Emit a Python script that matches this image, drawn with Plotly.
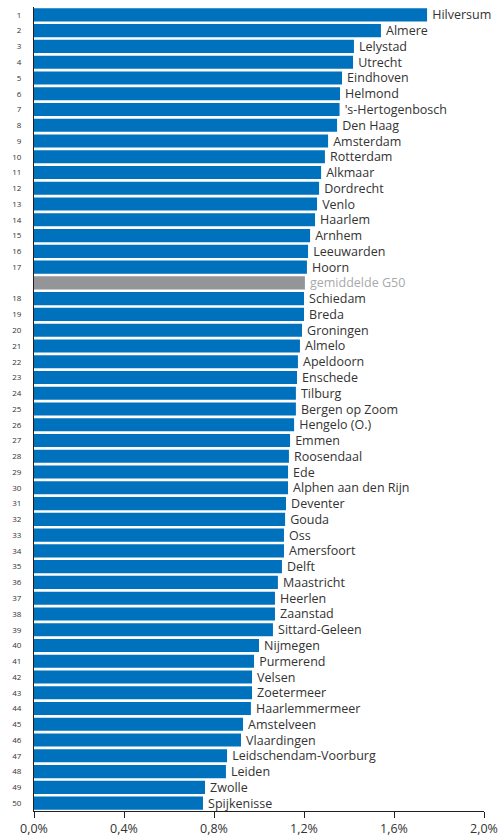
import plotly.graph_objects as go

cities = ["Hilversum", "Almere", "Lelystad", "Utrecht", "Eindhoven", "Helmond",
          "'s-Hertogenbosch", "Den Haag", "Amsterdam", "Rotterdam", "Alkmaar",
          "Dordrecht", "Venlo", "Haarlem", "Arnhem", "Leeuwarden", "Hoorn",
          "gemiddelde G50",
          "Schiedam", "Breda", "Groningen", "Almelo", "Apeldoorn", "Enschede",
          "Tilburg", "Bergen op Zoom", "Hengelo (O.)", "Emmen", "Roosendaal", "Ede",
          "Alphen aan den Rijn", "Deventer", "Gouda", "Oss", "Amersfoort", "Delft",
          "Maastricht", "Heerlen", "Zaanstad", "Sittard-Geleen", "Nijmegen",
          "Purmerend", "Velsen", "Zoetermeer", "Haarlemmermeer", "Amstelveen",
          "Vlaardingen", "Leidschendam-Voorburg", "Leiden", "Zwolle", "Spijkenisse"]

# percentages
values = [1.747, 1.542, 1.422, 1.418, 1.369, 1.360,
          1.358, 1.347, 1.307, 1.293, 1.276,
          1.267, 1.258, 1.249, 1.227, 1.218, 1.213,
          1.204,
          1.200, 1.200, 1.191, 1.182, 1.173, 1.169,
          1.164, 1.164, 1.156, 1.138, 1.133, 1.129,
          1.129, 1.120, 1.116, 1.111, 1.111, 1.102,
          1.084, 1.071, 1.071, 1.062, 1.000,
          0.978, 0.969, 0.969, 0.964, 0.929,
          0.920, 0.858, 0.853, 0.760, 0.751]

ranks = [str(i) for i in range(1, 18)] + [""] + [str(i) for i in range(18, 51)]

AVG = "gemiddelde G50"
blue = "#0071bc"
grey = "#939598"

bar_colors = [grey if c == AVG else blue for c in cities]
text_colors = ["#a7a9ac" if c == AVG else "#333333" for c in cities]

fig = go.Figure(go.Bar(
    x=[v / 100 for v in values],
    y=cities,
    orientation="h",
    marker=dict(color=bar_colors, line_width=0),
    text=["\u2009" + c for c in cities],
    textposition="outside",
    textfont=dict(family="Open Sans", size=12.5, color=text_colors),
    constraintext="none",
    cliponaxis=False,
    hoverinfo="skip",
))

fig.update_layout(
    width=502, height=840,
    margin=dict(l=34, r=18, t=7, b=29),
    plot_bgcolor="white", paper_bgcolor="white",
    separators=",.",
    bargap=0.17,
    showlegend=False,
    font=dict(family="Open Sans", color="#333333"),
)

fig.update_xaxes(
    range=[0, 0.02], tickvals=[0, 0.004, 0.008, 0.012, 0.016, 0.02],
    tickformat=".1%", showgrid=False, zeroline=False, automargin=False,
    showline=True, linecolor="#231f20", linewidth=1,
    ticks="outside", ticklen=6, tickcolor="#231f20",
    tickfont=dict(size=12.5, color="#333333"),
)

fig.update_yaxes(
    autorange="reversed", tickvals=cities, ticktext=ranks,
    showgrid=False, zeroline=False, automargin=False,
    showline=True, linecolor="#231f20", linewidth=1,
    ticks="", ticklabelstandoff=10,
    tickfont=dict(size=8, color="#333333"),
)

fig.write_html("out.html", config={"displayModeBar": False},
               post_script="document.body.style.margin='0';")
